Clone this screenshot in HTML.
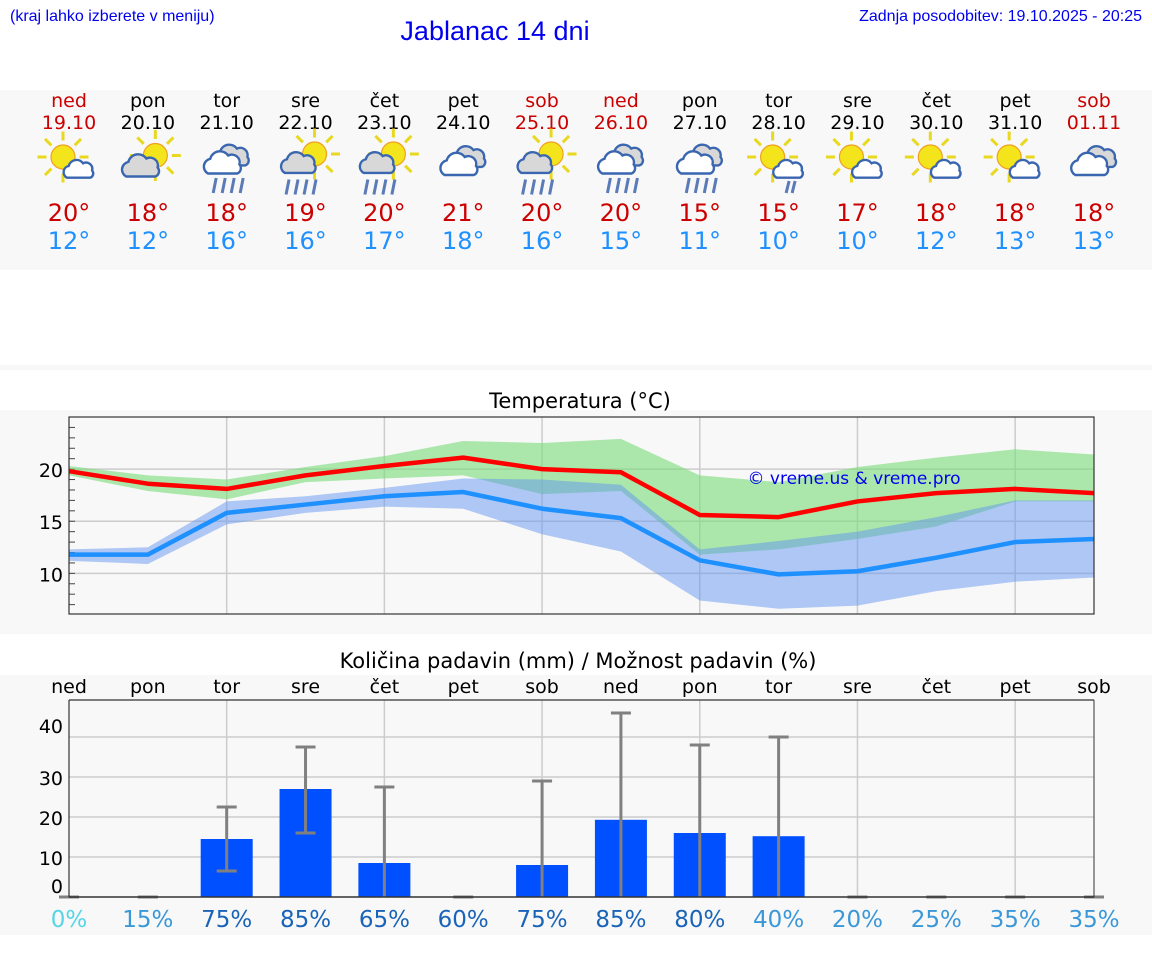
<!DOCTYPE html>
<html><head><meta charset="utf-8"><style>
body{margin:0;background:#fff;font-family:"DejaVu Sans","Liberation Sans",sans-serif}
svg{display:block}
</style></head><body>
<svg id="s" width="1152" height="975" xmlns="http://www.w3.org/2000/svg" font-family="DejaVu Sans, Liberation Sans, sans-serif">
<rect x="0" y="90" width="1152" height="180" fill="#f8f8f8"/>
<rect x="0" y="365" width="1152" height="5" fill="#f8f8f8"/>
<rect x="0" y="410" width="1152" height="224" fill="#f8f8f8"/>
<rect x="0" y="675" width="1152" height="260" fill="#f8f8f8"/>
<text x="10" y="21" font-size="16" font-family="Liberation Sans, sans-serif" fill="#0000ee">(kraj lahko izberete v meniju)</text>
<text x="495" y="40" font-size="27" font-family="Liberation Sans, sans-serif" fill="#0000ee" text-anchor="middle">Jablanac 14 dni</text>
<text x="1142" y="21" font-size="16" font-family="Liberation Sans, sans-serif" fill="#0000ee" text-anchor="end">Zadnja posodobitev: 19.10.2025 - 20:25</text>
<text x="580" y="408" font-size="21" fill="#000" text-anchor="middle">Temperatura (°C)</text>
<text x="578" y="668" font-size="21" fill="#000" text-anchor="middle">Količina padavin (mm) / Možnost padavin (%)</text>
<g id="topg"></g><g id="temp"></g><g id="prec"></g>
</svg>
<script>
const days=["ned","pon","tor","sre","čet","pet","sob","ned","pon","tor","sre","čet","pet","sob"];
const dates=["19.10","20.10","21.10","22.10","23.10","24.10","25.10","26.10","27.10","28.10","29.10","30.10","31.10","01.11"];
const hiTemps=[20,18,18,19,20,21,20,20,15,15,17,18,18,18];
const loTemps=[12,12,16,16,17,18,16,15,11,10,10,12,13,13];
const icons=[0,1,2,3,3,5,3,2,2,4,0,0,0,5];
const maxLine=[19.8,18.6,18.1,19.4,20.3,21.1,20,19.7,15.6,15.4,16.9,17.7,18.1,17.7];
const maxHi=[20.3,19.4,19.0,20.2,21.25,22.7,22.5,22.9,19.4,18.75,20.2,21.1,21.9,21.4];
const maxLo=[19.4,17.9,17.1,18.75,19.1,19.4,17.6,17.9,11.8,12.3,13.3,14.5,16.9,16.9];
const minLine=[11.8,11.8,15.8,16.6,17.4,17.8,16.2,15.3,11.25,9.9,10.2,11.5,13,13.3];
const minHi=[12.3,12.5,16.9,17.4,18.2,19.1,19.0,18.5,12.3,13.1,14.0,15.4,17.0,17.0];
const minLo=[11.2,10.9,14.7,15.8,16.4,16.2,13.75,12.1,7.4,6.6,6.9,8.3,9.2,9.6];
const tempTicks=[10,15,20];
const precip=[0,0,14.5,27,8.5,0,8,19.3,16,15.2,0,0,0,0];
const errLo=[0,0,6.5,16,0,0,0,0,0,0,0,0,0,0];
const errHi=[0,0,22.5,37.5,27.5,0,29,46,38,40,0,0,0,0];
const chance=[0,15,75,85,65,60,75,85,80,40,20,25,35,35];
const precTicks=[0,10,20,30,40];
const NS="http://www.w3.org/2000/svg";
function mk(p,t,a,txt){const e=document.createElementNS(NS,t);for(const k in a)e.setAttribute(k,a[k]);if(txt!==undefined)e.textContent=txt;p.appendChild(e);return e;}
const X0=69,X1=1094,n=14;
const xs=i=>X0+i*(X1-X0)/(n-1);
const topG=document.getElementById('topg');
function sun(g,cx,cy,r){for(let k=0;k<8;k++){const a=k*Math.PI/4;mk(g,'line',{x1:cx+Math.cos(a)*(r+3),y1:cy+Math.sin(a)*(r+3),x2:cx+Math.cos(a)*(r+9),y2:cy+Math.sin(a)*(r+9),stroke:'#e8d820','stroke-width':2});}mk(g,'circle',{cx:cx,cy:cy,r:r,fill:'#f4e41c',stroke:'#f0a020','stroke-width':0.8});}
function cloud(g,cx,cy,s,fill){mk(g,'path',{d:`M${cx-14*s},${cy+8*s} a${7*s},${7*s} 0 0 1 ${2*s},${-13*s} a${9*s},${9*s} 0 0 1 ${16*s},${-3*s} a${7*s},${7*s} 0 0 1 ${10*s},${8*s} a${5*s},${5*s} 0 0 1 ${-2*s},${8*s} z`,fill:fill,stroke:'#3a66b0','stroke-width':1.6});}
function rain(g,cx,cy){for(let k=0;k<4;k++)mk(g,'line',{x1:cx-8+k*6,y1:cy,x2:cx-10+k*6,y2:cy+10,stroke:'#5a7ab8','stroke-width':2});}
for(let i=0;i<n;i++){
  const x=xs(i),we=(days[i]=="ned"||days[i]=="sob");
  const g=mk(topG,'g',{});
  
  
  mk(g,'text',{x:x,y:107,'font-size':19,'text-anchor':'middle',fill:we?'#cc0000':'#000'},days[i]);
  mk(g,'text',{x:x,y:129,'font-size':19,'text-anchor':'middle',fill:we?'#cc0000':'#000'},dates[i]);
  const cy=163;
  const ic=mk(g,'g',{transform:`translate(${x},${cy}) scale(1.5) translate(${-x},${-cy})`});
  
  
  const t=icons[i];
  if(t===0){sun(ic,x-4,cy-4,8);cloud(ic,x+7,cy+5,0.6,'#fff');}
  else if(t===1){sun(ic,x+5,cy-5,8);cloud(ic,x-4,cy+3,0.75,'#d8d8d8');}
  else if(t===2){cloud(ic,x+4,cy-4,0.7,'#d8d8d8');cloud(ic,x-2,cy+1,0.75,'#fff');rain(ic,x+1,cy+10);}
  else if(t===3){sun(ic,x+6,cy-6,8);cloud(ic,x-4,cy+1,0.7,'#d8d8d8');rain(ic,x-3,cy+11);}
  else if(t===4){sun(ic,x-4,cy-4,8);cloud(ic,x+7,cy+5,0.6,'#fff');mk(ic,'line',{x1:x+7,y1:cy+12,x2:x+5,y2:cy+20,stroke:'#5a7ab8','stroke-width':2});mk(ic,'line',{x1:x+11,y1:cy+12,x2:x+9,y2:cy+20,stroke:'#5a7ab8','stroke-width':2});}
  else {cloud(ic,x+4,cy-3,0.7,'#d8d8d8');cloud(ic,x-2,cy+2,0.75,'#fff');}
  mk(g,'text',{x:x,y:221,'font-size':24,'text-anchor':'middle',fill:'#cc0000'},hiTemps[i]+'°');
  mk(g,'text',{x:x,y:249,'font-size':24,'text-anchor':'middle',fill:'#1e90ff'},loTemps[i]+'°');
}
const T=document.getElementById('temp');
const TY0=417,TY1=614,tMin=6.1,tMax=25;
const ty=v=>TY1-(v-tMin)/(tMax-tMin)*(TY1-TY0);
mk(T,'rect',{x:X0,y:TY0,width:X1-X0,height:TY1-TY0,fill:'#f8f8f8'});
for(let i=2;i<n;i+=2)mk(T,'line',{x1:xs(i),y1:TY0,x2:xs(i),y2:TY1,stroke:'#ccc','stroke-width':1.5});
tempTicks.forEach(v=>{mk(T,'line',{x1:X0,y1:ty(v),x2:X1,y2:ty(v),stroke:'#ccc','stroke-width':1.5});
  const l=mk(T,'text',{x:63,y:ty(v)+8,'font-size':19,'text-anchor':'end',fill:'#000'},v);
  
  });
for(let v=7;v<=24;v++)mk(T,'line',{x1:X0,y1:ty(v),x2:X0+6,y2:ty(v),stroke:'#444','stroke-width':1});
function band(hi,lo,fill,name){let d='M'+hi.map((v,i)=>xs(i)+','+ty(v)).join('L')+'L'+lo.map((v,i)=>xs(i)+','+ty(v)).reverse().join('L')+'Z';
  const p=mk(T,'path',{d:d,fill:fill});}
band(maxHi,maxLo,'rgba(120,220,120,0.6)','max-temp-range');
band(minHi,minLo,'rgba(100,150,240,0.5)','min-temp-range');
function line(v,c,name){const p=mk(T,'polyline',{points:v.map((a,i)=>xs(i)+','+ty(a)).join(' '),fill:'none',stroke:c,'stroke-width':4.5,'stroke-linejoin':'round'});}
line(minLine,'#1e90ff','min-temp-line');
line(maxLine,'#ff0000','max-temp-line');
mk(T,'rect',{x:X0,y:TY0,width:X1-X0,height:TY1-TY0,fill:'none',stroke:'#333','stroke-width':1.2});
const wm=mk(T,'text',{x:854,y:484,'font-size':17,'text-anchor':'middle',fill:'#0000ee'},'© vreme.us & vreme.pro');


const P=document.getElementById('prec');
const PY0=700,PY1=897,pMax=49.25;
const py=v=>PY1-v/pMax*(PY1-PY0);
mk(P,'rect',{x:X0,y:PY0,width:X1-X0,height:PY1-PY0,fill:'#f8f8f8'});
for(let i=2;i<n;i+=2)mk(P,'line',{x1:xs(i),y1:PY0,x2:xs(i),y2:PY1,stroke:'#ccc','stroke-width':1.5});
precTicks.forEach(v=>{if(v>0)mk(P,'line',{x1:X0,y1:py(v),x2:X1,y2:py(v),stroke:'#ccc','stroke-width':1.5});
  const l=mk(P,'text',{x:63,y:(v==40?733:v==0?893:py(v)+8),'font-size':19,'text-anchor':'end',fill:'#000'},v);
  
  });
function pctColor(p){if(p<10)return '#55d5e5';if(p<50)return '#3a98d8';return '#1a64b8';}
for(let i=0;i<n;i++){const x=xs(i);
  const d=mk(P,'text',{x:x,y:693,'font-size':19,'text-anchor':'middle',fill:'#000'},days[i]);
  
  
  if(precip[i]>0){const b=mk(P,'rect',{x:x-26,y:py(precip[i]),width:52,height:PY1-py(precip[i]),fill:'#0050ff'});
    
    }
  const e=mk(P,'g',{stroke:'#808080','stroke-width':3});
  
  
  mk(e,'line',{x1:x,y1:py(errLo[i]),x2:x,y2:py(errHi[i])});
  mk(e,'line',{x1:x-10,y1:py(errHi[i]),x2:x+10,y2:py(errHi[i])});
  if(errLo[i]>0)mk(e,'line',{x1:x-10,y1:py(errLo[i]),x2:x+10,y2:py(errLo[i])});
  const c=mk(P,'text',{x:x,y:927,'font-size':23,'text-anchor':'middle',fill:pctColor(chance[i])},chance[i]+'%');
  
  
}
mk(P,'line',{x1:X0,y1:PY0,x2:X1,y2:PY0,stroke:'#333','stroke-width':1.2});
mk(P,'line',{x1:X0,y1:PY0,x2:X0,y2:PY1,stroke:'#333','stroke-width':1.2});
mk(P,'line',{x1:X0,y1:PY1,x2:X1,y2:PY1,stroke:'#333','stroke-width':1.5});
mk(P,'line',{x1:X1,y1:PY0,x2:X1,y2:PY1,stroke:'#333','stroke-width':1});
</script>
</body></html>
